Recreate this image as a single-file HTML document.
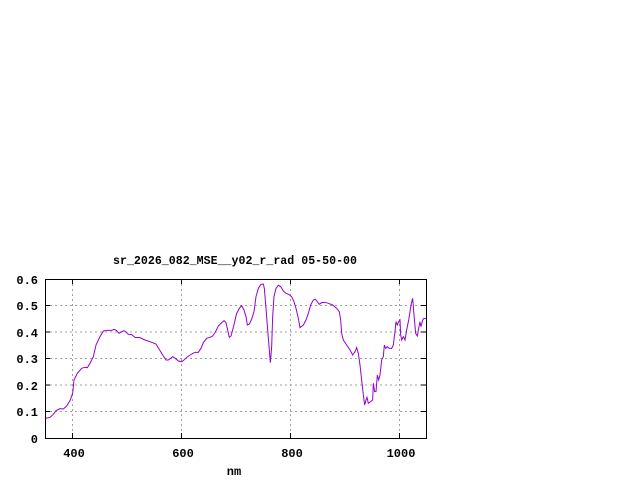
<!DOCTYPE html>
<html><head><style>
html,body{margin:0;padding:0;background:#fff;}
svg{display:block;}
text{font-family:"Liberation Mono",monospace;font-weight:bold;font-size:12px;fill:#000;}
</style></head><body>
<svg width="640" height="480" xmlns="http://www.w3.org/2000/svg">
<rect width="640" height="480" fill="#fff"/>
<text x="113" y="264" textLength="244" lengthAdjust="spacingAndGlyphs">sr_2026_082_MSE__y02_r_rad 05-50-00</text>
<g stroke="#a0a0a0" stroke-width="1" stroke-dasharray="2,3">
<line x1="45" x2="426" y1="411.5" y2="411.5"/>
<line x1="45" x2="426" y1="385" y2="385"/>
<line x1="45" x2="426" y1="358.5" y2="358.5"/>
<line x1="45" x2="426" y1="332" y2="332"/>
<line x1="45" x2="426" y1="305.5" y2="305.5"/>
<line x1="72.5" x2="72.5" y1="279" y2="438"/>
<line x1="181.5" x2="181.5" y1="279" y2="438"/>
<line x1="290.5" x2="290.5" y1="279" y2="438"/>
<line x1="399.5" x2="399.5" y1="279" y2="438"/>
</g>
<rect x="45.5" y="279.5" width="381" height="159" fill="none" stroke="#000"/>
<g stroke="#000">
<line x1="45" x2="50" y1="411.5" y2="411.5"/><line x1="421" x2="426" y1="411.5" y2="411.5"/>
<line x1="45" x2="50" y1="385" y2="385"/><line x1="421" x2="426" y1="385" y2="385"/>
<line x1="45" x2="50" y1="358.5" y2="358.5"/><line x1="421" x2="426" y1="358.5" y2="358.5"/>
<line x1="45" x2="50" y1="332" y2="332"/><line x1="421" x2="426" y1="332" y2="332"/>
<line x1="45" x2="50" y1="305.5" y2="305.5"/><line x1="421" x2="426" y1="305.5" y2="305.5"/>
<line x1="72.5" x2="72.5" y1="438" y2="433"/><line x1="72.5" x2="72.5" y1="279" y2="284"/>
<line x1="181.5" x2="181.5" y1="438" y2="433"/><line x1="181.5" x2="181.5" y1="279" y2="284"/>
<line x1="290.5" x2="290.5" y1="438" y2="433"/><line x1="290.5" x2="290.5" y1="279" y2="284"/>
<line x1="399.5" x2="399.5" y1="438" y2="433"/><line x1="399.5" x2="399.5" y1="279" y2="284"/>
</g>
<g text-anchor="end">
<text x="38" y="443">0</text>
<text x="38" y="416">0.1</text>
<text x="38" y="390">0.2</text>
<text x="38" y="363">0.3</text>
<text x="38" y="337">0.4</text>
<text x="38" y="310">0.5</text>
<text x="38" y="284">0.6</text>
</g>
<g text-anchor="middle">
<text x="74" y="457">400</text>
<text x="183" y="457">600</text>
<text x="292" y="457">800</text>
<text x="401" y="457">1000</text>
<text x="234" y="475">nm</text>
</g>
<g transform="translate(0,250) scale(0.33333)">
<polyline fill="none" stroke="#9400d3" stroke-width="3" points="137,505 150,502 160,493 168,482 180,476 190,477 200,468 210,452 218,430 222,390 232,370 245,355 255,352 262,353 270,340 280,320 288,285 300,260 310,243 320,241 335,241 343,238 350,242 357,250 365,245 372,242 378,246 385,253 395,254 405,262 420,263 435,270 450,275 468,282 476,295 488,315 498,330 505,330 512,325 518,320 526,325 535,333 545,335 552,330 560,322 575,312 585,307 595,307 603,295 610,278 620,265 630,262 638,258 645,248 655,228 665,218 672,212 678,218 684,245 688,262 693,258 700,232 710,190 718,175 725,167 732,180 738,200 742,225 748,222 755,208 762,185 768,140 775,115 783,103 790,102 793,115 798,175 803,240 808,300 811,338 815,290 818,200 822,140 828,115 835,106 842,110 850,123 858,130 866,133 875,140 882,155 888,175 895,205 900,233 910,225 918,210 925,190 932,165 940,150 946,148 952,155 958,163 965,158 975,157 985,160 998,165 1010,175 1018,185 1022,210 1025,250 1030,270 1040,285 1050,300 1058,315 1065,305 1070,293 1075,310 1080,345 1085,390 1090,435 1094,465 1098,450 1101,442 1105,460 1112,455 1118,450 1120,400 1124,425 1128,425 1132,375 1136,390 1140,375 1145,330 1150,320 1153,285 1157,295 1162,290 1168,295 1175,295 1180,285 1185,245 1188,215 1192,225 1196,215 1200,210 1202,255 1205,270 1210,260 1215,270 1220,240 1226,210 1230,185 1234,160 1238,145 1242,195 1247,250 1252,258 1256,235 1260,215 1263,230 1268,210 1272,205 1279,205"/>
</g>
</svg>
</body></html>
